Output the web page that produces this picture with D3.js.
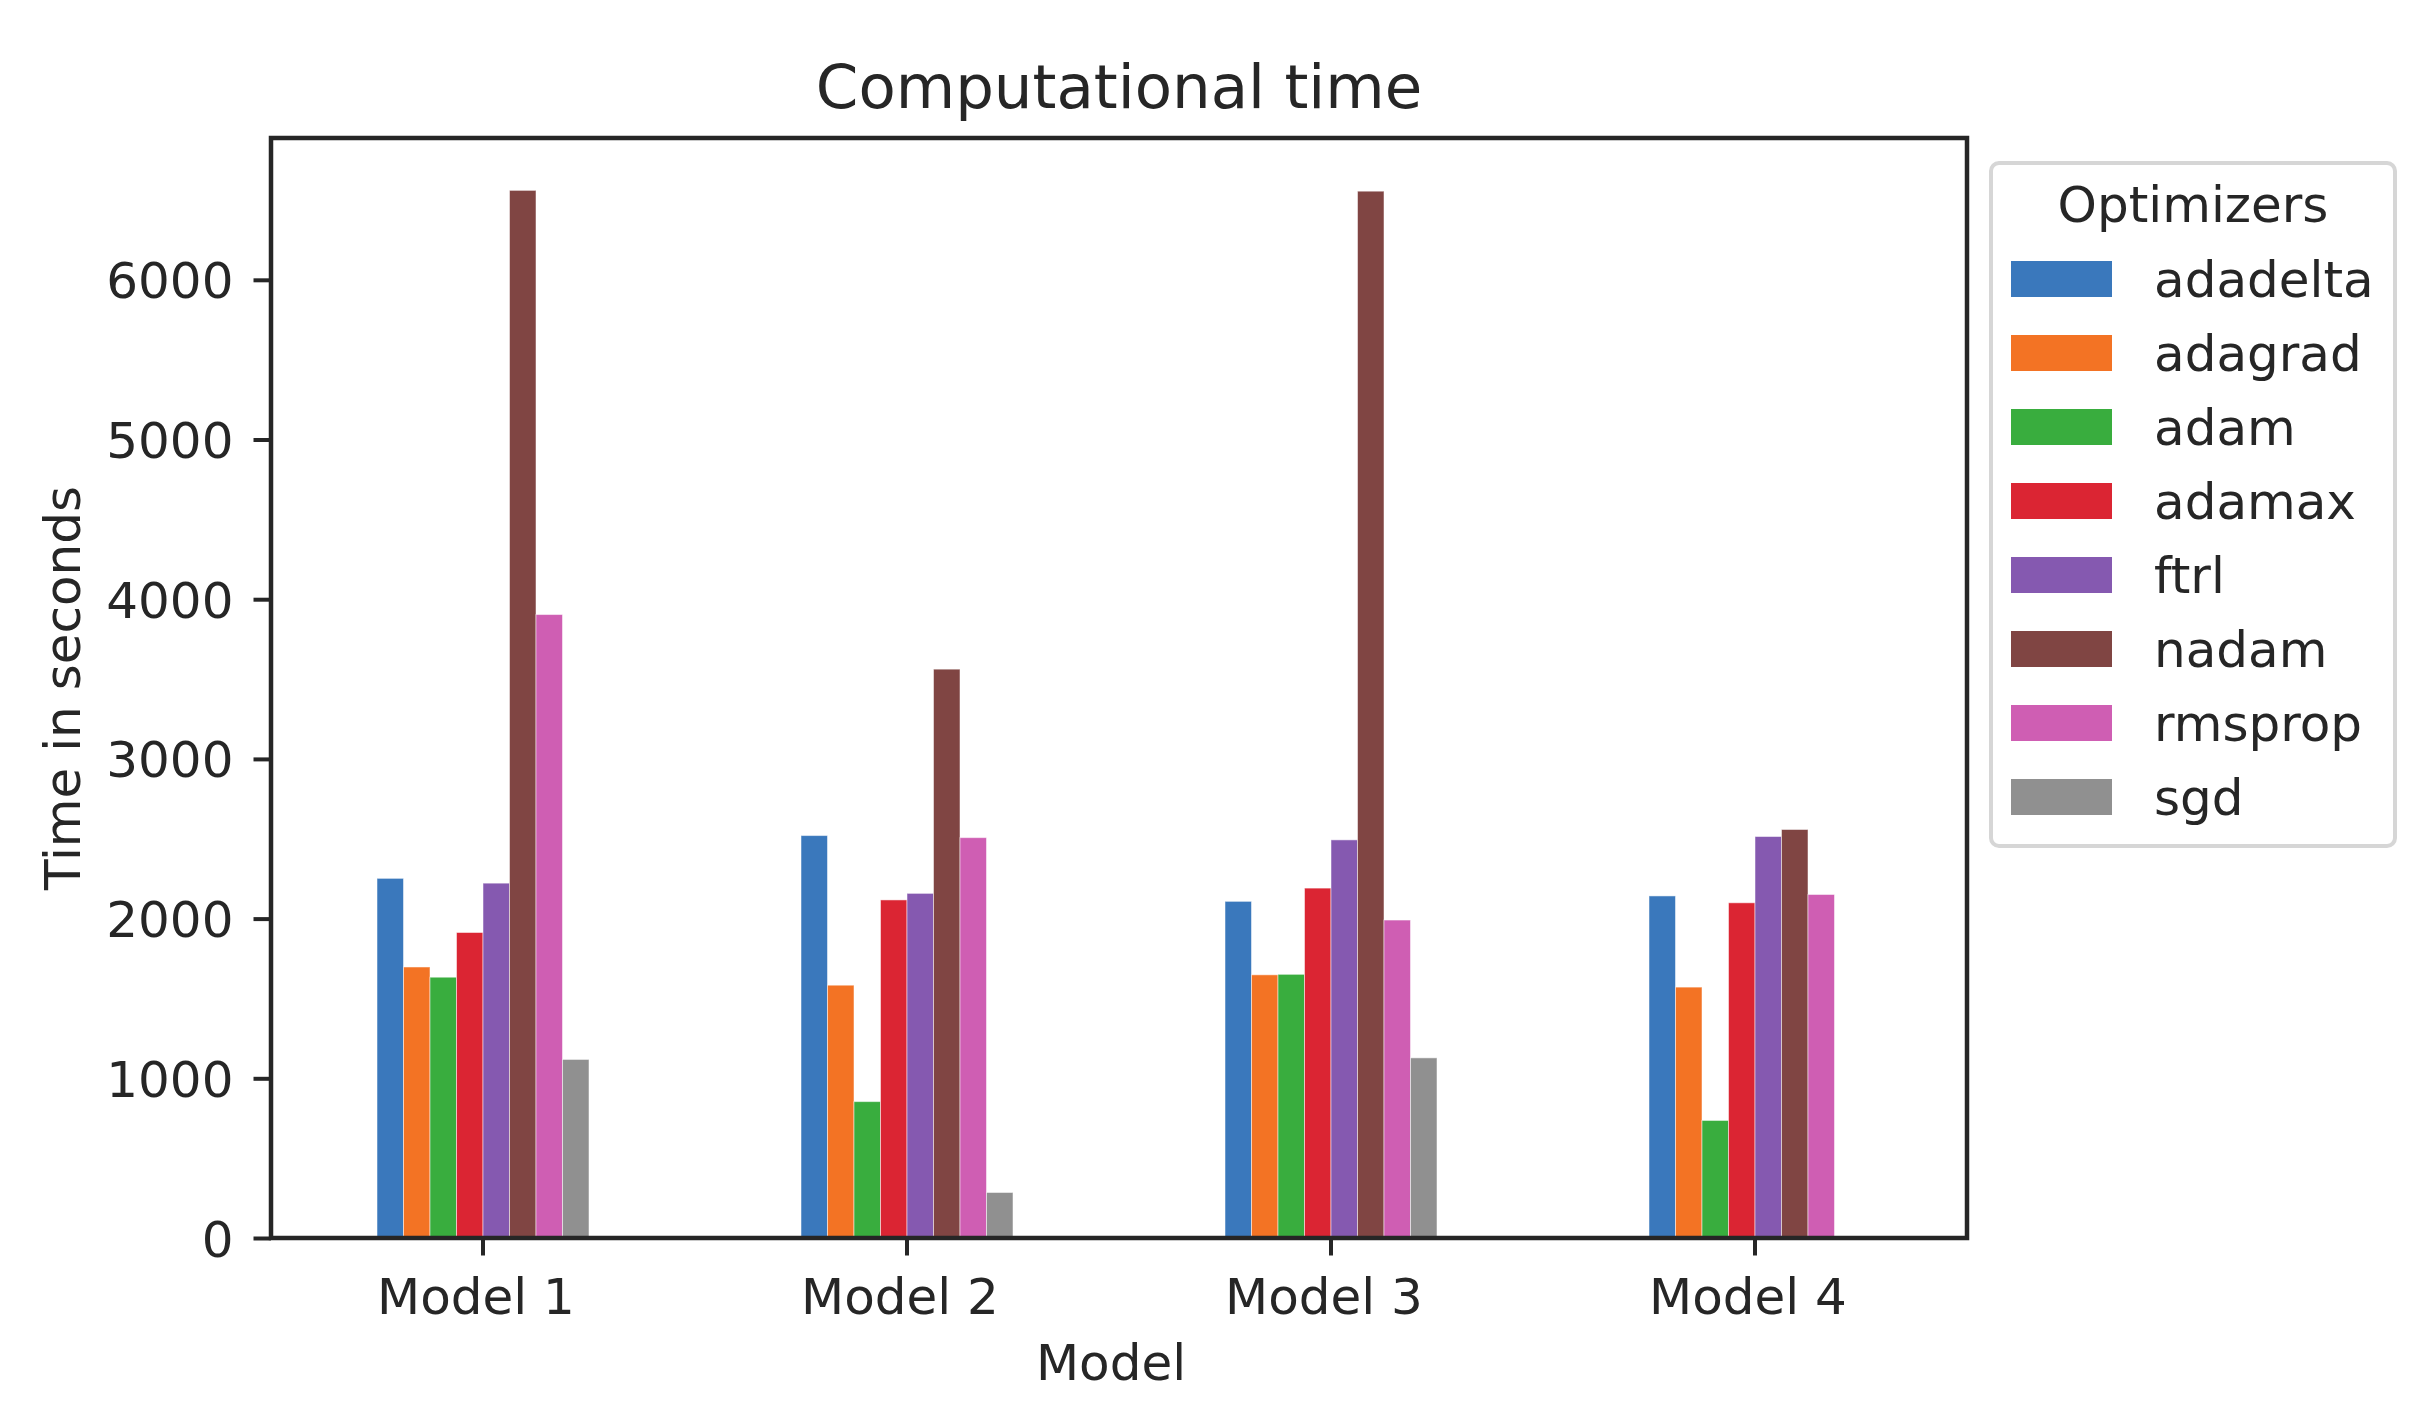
<!DOCTYPE html>
<html>
<head>
<meta charset="utf-8">
<script src="https://cdn.jsdelivr.net/npm/d3@7"></script>
<style>
  body { margin: 0; background: #fff; }
  text { font-family: "DejaVu Sans", sans-serif; fill: #262626; }
</style>
</head>
<body>
<div id="grafica"></div>
<script>
// datos
let models = ["Model 1", "Model 2", "Model 3", "Model 4"];
let optimizers = ["adadelta", "adagrad", "adam", "adamax", "ftrl", "nadam", "rmsprop", "sgd"];
let adadelta = [2252, 2520, 2108, 2142];
let adagrad = [1697, 1583, 1648, 1571];
let adam = [1633, 854, 1651, 736];
let adamax = [1913, 2117, 2191, 2099];
let ftrl = [2222, 2158, 2493, 2514];
let nadam = [6560, 3562, 6555, 2558];
let rmsprop = [3904, 2507, 1991, 2151];
let sgd = [1118, 285, 1128, null];
let yTicks = [0, 1000, 2000, 3000, 4000, 5000, 6000];

let series = [adadelta, adagrad, adam, adamax, ftrl, nadam, rmsprop, sgd];
let colores = ["#3a78bc", "#f37324", "#39ad3e", "#db2533", "#8559b0", "#804543", "#cf5eb3", "#909090"];

let width = 2428;
let height = 1428;
let margin = { top: 138, right: 461, bottom: 190, left: 271 };

let svg = d3
  .select("#grafica")
  .append("svg")
  .attr("width", width)
  .attr("height", height);

let x = d3
  .scaleBand()
  .domain(models)
  .range([margin.left, width - margin.right])
  .paddingInner(0.5)
  .paddingOuter(0.25);

let xInner = d3
  .scaleBand()
  .domain(optimizers)
  .range([0, x.bandwidth()]);

let ymax = d3.max(series.flat()) * 1.05;
let y = d3
  .scaleLinear()
  .domain([0, ymax])
  .range([height - margin.bottom, margin.top]);

let data = [];
series.forEach((s, j) => {
  s.forEach((v, i) => {
    if (v !== null) data.push({ model: models[i], opt: optimizers[j], valor: v, k: j });
  });
});

// barras
svg
  .selectAll("rect.barra")
  .data(data)
  .enter()
  .append("rect")
  .attr("class", "barra")
  .attr("x", (d) => x(d.model) + xInner(d.opt))
  .attr("y", (d) => y(d.valor))
  .attr("width", xInner.bandwidth())
  .attr("height", (d) => y(0) - y(d.valor))
  .attr("fill", (d) => colores[d.k])
  .attr("stroke", "rgba(255,255,255,0.5)")
  .attr("stroke-width", 1);

// eje y
let ejeY = svg
  .append("g")
  .attr("transform", "translate(" + margin.left + ",0)")
  .call(d3.axisLeft(y).tickValues(yTicks).tickSize(17.5).tickPadding(20).tickFormat(d3.format("d")));

// eje x
let ejeX = svg
  .append("g")
  .attr("transform", "translate(0," + (height - margin.bottom) + ")")
  .call(d3.axisBottom(x).tickSize(17.5).tickPadding(20));

[ejeY, ejeX].forEach((g) => {
  g.select(".domain").remove();
  g.selectAll(".tick line").attr("stroke", "#262626").attr("stroke-width", 4);
  g.selectAll(".tick text").attr("font-size", "50px").attr("fill", "#262626");
});
ejeY.selectAll(".tick text").attr("dy", "0.36em");
ejeX.selectAll(".tick text").attr("dy", "0.76em").attr("dx", -7);

// marco
svg
  .append("rect")
  .attr("x", margin.left)
  .attr("y", margin.top)
  .attr("width", width - margin.left - margin.right)
  .attr("height", height - margin.top - margin.bottom)
  .attr("fill", "none")
  .attr("stroke", "#262626")
  .attr("stroke-width", 4.5);

// titulos
svg
  .append("text")
  .attr("x", (margin.left + width - margin.right) / 2)
  .attr("y", 108)
  .attr("text-anchor", "middle")
  .attr("font-size", "61px")
  .text("Computational time");

svg
  .append("text")
  .attr("x", (margin.left + width - margin.right) / 2 - 8)
  .attr("y", 1380)
  .attr("text-anchor", "middle")
  .attr("font-size", "50px")
  .text("Model");

svg
  .append("text")
  .attr("transform", "translate(80," + (margin.top + height - margin.bottom) / 2 + ") rotate(-90)")
  .attr("text-anchor", "middle")
  .attr("font-size", "50px")
  .text("Time in seconds");

// leyenda
let leyenda = svg.append("g").attr("transform", "translate(1991,163)");

leyenda
  .append("rect")
  .attr("width", 404)
  .attr("height", 683)
  .attr("rx", 8)
  .attr("fill", "white")
  .attr("stroke", "#d6d6d6")
  .attr("stroke-width", 4);

leyenda
  .append("text")
  .attr("x", 202)
  .attr("y", 59)
  .attr("text-anchor", "middle")
  .attr("font-size", "50px")
  .text("Optimizers");

let items = leyenda
  .selectAll("g.item")
  .data(optimizers)
  .enter()
  .append("g")
  .attr("class", "item")
  .attr("transform", (d, i) => "translate(20," + (98 + i * 74) + ")");

items
  .append("rect")
  .attr("width", 101)
  .attr("height", 36)
  .attr("fill", (d, i) => colores[i]);

items
  .append("text")
  .attr("x", 143)
  .attr("y", 36)
  .attr("font-size", "50px")
  .text((d) => d);
</script>
</body>
</html>
